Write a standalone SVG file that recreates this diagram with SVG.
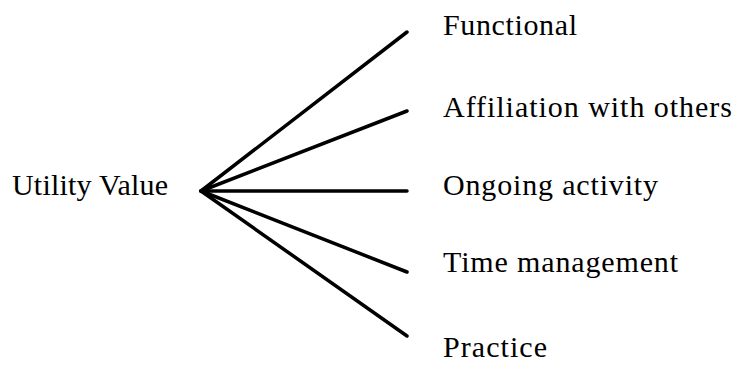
<svg xmlns="http://www.w3.org/2000/svg" width="735" height="367" viewBox="0 0 735 367">
<style>
text { font-family: "Liberation Serif", "Times New Roman", serif; font-size: 30px; fill: #000; }
.c { stroke: #000; stroke-width: 3.5; stroke-linecap: round; fill: none; }
</style>
<rect width="735" height="367" fill="#fff"/>
<g id="connectors">
<line class="c" x1="201" y1="191" x2="407" y2="32"/>
<line class="c" x1="201" y1="191" x2="407" y2="111"/>
<line class="c" x1="201" y1="191" x2="407" y2="191"/>
<line class="c" x1="201" y1="191" x2="407" y2="272"/>
<line class="c" x1="201" y1="191" x2="407" y2="336"/>
</g>
<g id="utility-value"><text x="12" y="195" textLength="156" lengthAdjust="spacing">Utility Value</text></g>
<g id="functional"><text x="443" y="35" textLength="134" lengthAdjust="spacing">Functional</text></g>
<g id="affiliation"><text x="443" y="117" textLength="289" lengthAdjust="spacing">Affiliation with others</text></g>
<g id="ongoing"><text x="443" y="195" textLength="215" lengthAdjust="spacing">Ongoing activity</text></g>
<g id="time"><text x="443" y="272" textLength="235" lengthAdjust="spacing">Time management</text></g>
<g id="practice"><text x="443" y="357" textLength="104" lengthAdjust="spacing">Practice</text></g>
</svg>
